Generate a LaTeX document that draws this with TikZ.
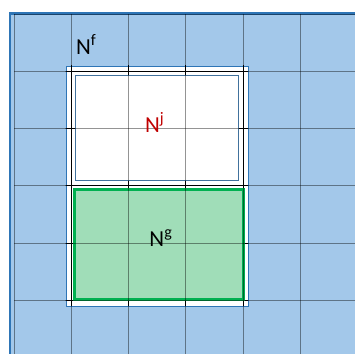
\documentclass[tikz,border=0pt]{standalone}
\usepackage{fontspec}
\setmainfont{Carlito}
\definecolor{bgblue}{HTML}{A3C8EA}
\definecolor{bgborder}{HTML}{2E75B6}
\definecolor{framebl}{HTML}{2E75B6}
\definecolor{jborder}{HTML}{41719C}
\definecolor{gfill}{HTML}{A0DDB8}
\definecolor{gborder}{HTML}{00B050}
\definecolor{jred}{HTML}{C00000}
\begin{document}
\begin{tikzpicture}[x=1bp,y=-1bp,
  gridline/.style={black,opacity=0.42,line width=0.9bp},
  bandgrid/.style={black,line width=0.9bp},
  lbl/.style={font=\fontsize{23}{26}\selectfont,inner sep=0pt,anchor=base west}]
\useasboundingbox (0,0) rectangle (355,354);
\begin{scope}
\clip (0,0) rectangle (355,354);
% blue background
\node[draw=bgborder,line width=2.6bp,fill=bgblue,inner sep=0pt,minimum width=360bp,minimum height=360bp,anchor=north west] (bg) at (8.8,12.3) {};
% frame N^f
\node[draw=framebl,line width=1.2bp,fill=white,inner sep=0pt,minimum width=182.5bp,minimum height=240bp,anchor=north west] (frame) at (65.5,65.5) {};
\begin{scope}
\clip (65.5,65.5) rectangle (248,305.5);
\foreach \g in {14,71.3,128.6,185.9,243.2,300.5}{
  \draw[bandgrid] (\g,0) -- (\g,354);
  \draw[bandgrid] (0,\g) -- (355,\g);
}
\end{scope}
% N^j box
\node[draw=jborder,line width=1bp,fill=white,inner sep=0pt,minimum width=163bp,minimum height=105bp,anchor=north west] (nj) at (75,75) {};
% N^g box
\node[draw=gborder,line width=3bp,fill=gfill,inner sep=0pt,minimum width=169bp,minimum height=110bp,anchor=north west] (ng) at (73,188) {};
% grid on top
\foreach \g in {14,71.3,128.6,185.9,243.2,300.5}{
  \draw[gridline] (\g,14) -- (\g,360);
  \draw[gridline] (14,\g) -- (360,\g);
}
\end{scope}
% labels
\node[lbl] (lf) at (76,54.5) {N\textsuperscript{f}};
\node[lbl,text=jred] (lj) at (145,132.7) {N\textsuperscript{j}};
\node[lbl] (lg) at (149.3,246.7) {N\textsuperscript{g}};
\end{tikzpicture}
\end{document}
